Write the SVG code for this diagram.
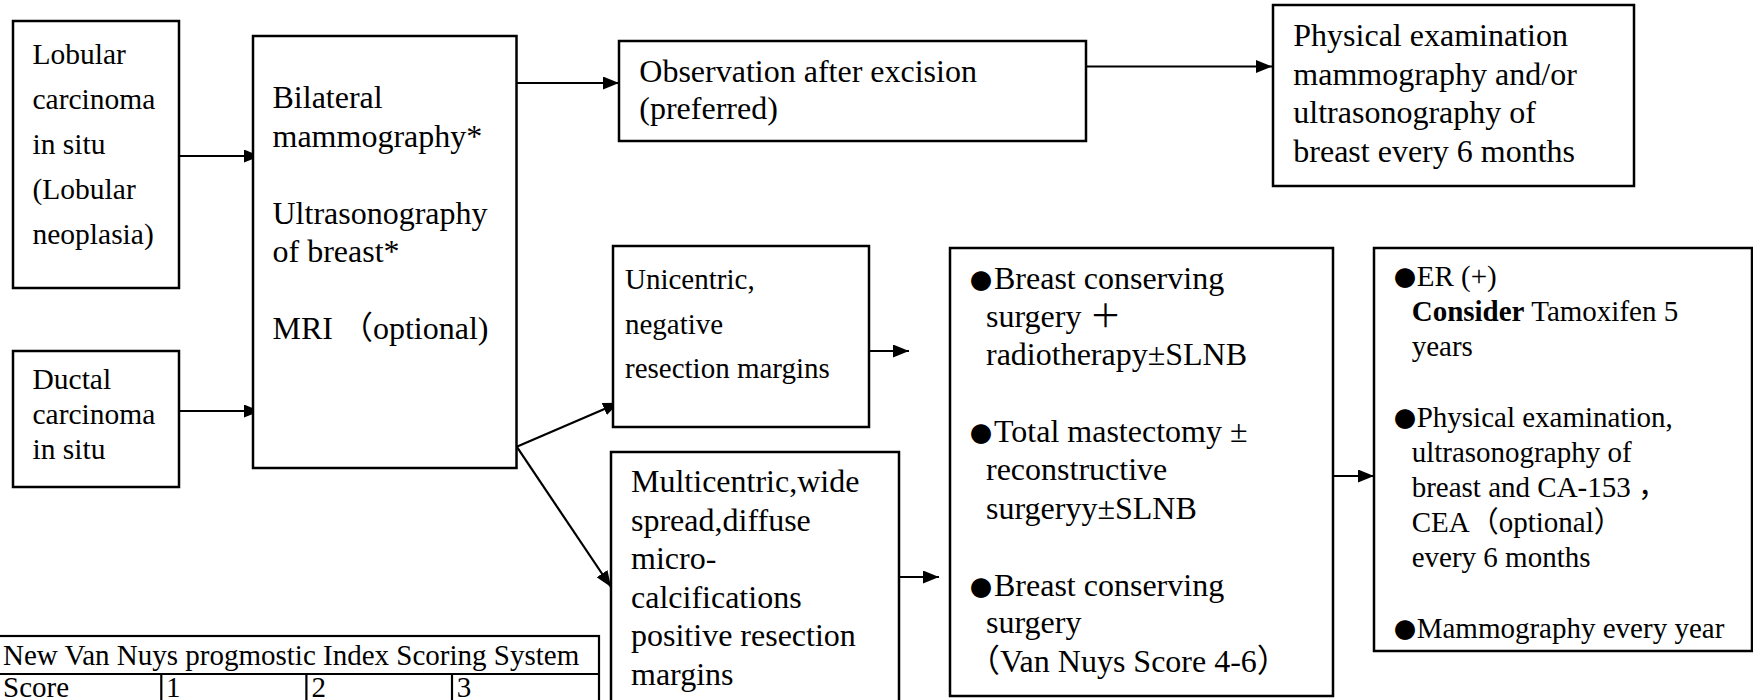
<svg xmlns="http://www.w3.org/2000/svg" width="1753" height="700" viewBox="0 0 1753 700">
<style>
.box{fill:#fff;stroke:#000;stroke-width:2.5}
.ln{stroke:#000;stroke-width:2.2;fill:none;marker-end:url(#ah)}
.tl{stroke:#000;stroke-width:2.2;fill:none}
text{font-family:'Liberation Serif','Noto Sans CJK SC',serif;fill:#000}
.f32{font-size:32px}
.f29{font-size:29px}
.f295{font-size:29.5px}
.bu{font-family:'Noto Sans CJK SC','DejaVu Sans',sans-serif;font-size:22px}
</style>
<defs>
<marker id="ah" markerUnits="userSpaceOnUse" markerWidth="17" markerHeight="14" refX="16" refY="6.5" orient="auto">
<path d="M0,0 L16,6.5 L0,13 z" fill="#000"/>
</marker>
</defs>
<g id="connectors">
<line class="ln" x1="179" y1="156" x2="260" y2="156"/>
<line class="ln" x1="179" y1="411" x2="260" y2="411"/>
<line class="ln" x1="516" y1="83" x2="619" y2="83"/>
<line class="ln" x1="1086" y1="66.5" x2="1272" y2="66.5"/>
<line class="ln" x1="516.7" y1="446.7" x2="619" y2="402.7"/>
<line class="ln" x1="516.7" y1="446.7" x2="611" y2="587"/>
<line class="ln" x1="869" y1="351" x2="909" y2="351"/>
<line class="ln" x1="899" y1="577" x2="939" y2="577"/>
<line class="ln" x1="1333" y1="476" x2="1374" y2="476"/>
</g>
<g id="lobular">
<rect class="box" x="13" y="21" width="166" height="267"/>
<text class="f295" x="32.5" y="64">Lobular</text>
<text class="f295" x="32.5" y="109">carcinoma</text>
<text class="f295" x="32.5" y="154">in situ</text>
<text class="f295" x="32.5" y="199">(Lobular</text>
<text class="f295" x="32.5" y="244">neoplasia)</text>
</g>
<g id="ductal">
<rect class="box" x="13" y="351" width="166" height="136"/>
<text class="f295" x="32.5" y="389">Ductal</text>
<text class="f295" x="32.5" y="424">carcinoma</text>
<text class="f295" x="32.5" y="459">in situ</text>
</g>
<g id="workup">
<rect class="box" x="253" y="36" width="263.5" height="432"/>
<text class="f32" x="272.5" y="108">Bilateral</text>
<text class="f32" x="272.5" y="147">mammography*</text>
<text class="f32" x="272.5" y="224">Ultrasonography</text>
<text class="f32" x="272.5" y="262">of breast*</text>
<text class="f32" x="272.5" y="339">MRI （optional)</text>
</g>
<g id="observation">
<rect class="box" x="619" y="41" width="467" height="100"/>
<text class="f32" x="639.3" y="81.7">Observation after excision</text>
<text class="f32" x="639.3" y="119">(preferred)</text>
</g>
<g id="followup-lcis">
<rect class="box" x="1273" y="5" width="361" height="181"/>
<text class="f32" x="1293.3" y="46">Physical examination</text>
<text class="f32" x="1293.3" y="84.5">mammography and/or</text>
<text class="f32" x="1293.3" y="123">ultrasonography of</text>
<text class="f32" x="1293.3" y="161.5">breast every 6 months</text>
</g>
<g id="unicentric">
<rect class="box" x="613" y="246" width="256" height="181"/>
<text class="f29" x="625" y="289.3">Unicentric,</text>
<text class="f29" x="625" y="334">negative</text>
<text class="f29" x="625" y="378.3">resection margins</text>
</g>
<g id="multicentric">
<rect class="box" x="611" y="452" width="288" height="270"/>
<text class="f32" x="631" y="492">Multicentric,wide</text>
<text class="f32" x="631" y="530.5">spread,diffuse</text>
<text class="f32" x="631" y="569">micro-</text>
<text class="f32" x="631" y="607.5">calcifications</text>
<text class="f32" x="631" y="646">positive resection</text>
<text class="f32" x="631" y="684.5">margins</text>
</g>
<g id="surgery">
<rect class="box" x="950" y="248" width="383" height="448"/>
<text class="f32" x="970" y="289"><tspan class="bu">●</tspan><tspan x="994">Breast conserving</tspan></text>
<text class="f32" x="986" y="326.5">surgery ＋</text>
<text class="f32" x="986" y="365">radiotherapy±SLNB</text>
<text class="f32" x="970" y="441.5"><tspan class="bu">●</tspan><tspan x="994">Total mastectomy ±</tspan></text>
<text class="f32" x="986" y="480">reconstructive</text>
<text class="f32" x="986" y="518.5">surgeryy±SLNB</text>
<text class="f32" x="970" y="595.5"><tspan class="bu">●</tspan><tspan x="994">Breast conserving</tspan></text>
<text class="f32" x="986" y="633">surgery</text>
<text class="f32" x="968" y="671.5">（Van Nuys Score 4-6）</text>
</g>
<g id="followup-dcis">
<rect class="box" x="1374" y="248" width="378" height="403"/>
<text class="f29" x="1394" y="286"><tspan class="bu">●</tspan><tspan x="1416.7">ER (+)</tspan></text>
<text class="f29" x="1411.7" y="321"><tspan font-weight="bold">Consider</tspan> Tamoxifen 5</text>
<text class="f29" x="1411.7" y="356">years</text>
<text class="f29" x="1394" y="427"><tspan class="bu">●</tspan><tspan x="1416.7">Physical examination,</tspan></text>
<text class="f29" x="1411.7" y="462">ultrasonography of</text>
<text class="f29" x="1411.7" y="497">breast and CA-153 ，</text>
<text class="f29" x="1411.7" y="532">CEA（optional）</text>
<text class="f29" x="1411.7" y="567">every 6 months</text>
<text class="f29" x="1394" y="637.5"><tspan class="bu">●</tspan><tspan x="1416.7">Mammography every year</tspan></text>
</g>
<g id="vannuys-table">
<rect class="tl" x="-2" y="636" width="601" height="90" fill="#fff"/>
<line class="tl" x1="-2" y1="674" x2="599" y2="674"/>
<line class="tl" x1="161.3" y1="674" x2="161.3" y2="726"/>
<line class="tl" x1="306.4" y1="674" x2="306.4" y2="726"/>
<line class="tl" x1="452" y1="674" x2="452" y2="726"/>
<text class="f29" x="3" y="665">New Van Nuys progmostic Index Scoring System</text>
<text class="f29" x="3" y="697">Score</text>
<text class="f29" x="166" y="697">1</text>
<text class="f29" x="311.6" y="697">2</text>
<text class="f29" x="456.7" y="697">3</text>
</g>
</svg>
